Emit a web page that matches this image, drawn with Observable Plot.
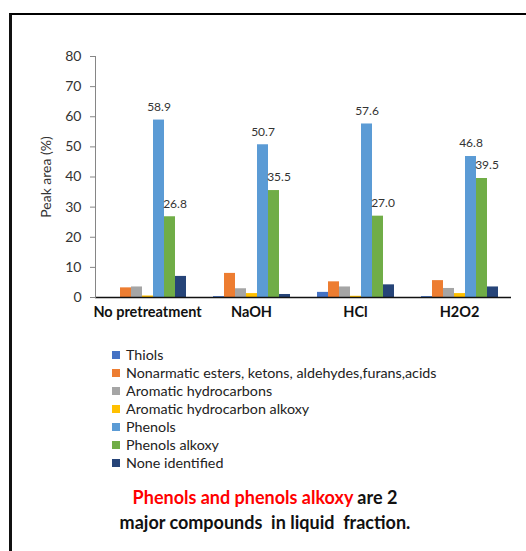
<!DOCTYPE html>
<html>
<head>
<meta charset="utf-8">
<script src="https://cdn.jsdelivr.net/npm/d3@7"></script>
<script src="https://cdn.jsdelivr.net/npm/@observablehq/plot@0.6"></script>
<style>
  html, body { margin: 0; padding: 0; background: #fff; }
  #wrap { position: relative; width: 526px; height: 551px; overflow: hidden; font-family: Lato, "Open Sans", sans-serif; }
  #border { position: absolute; left: 9px; top: 13px; right: -10px; bottom: -10px; border-top: 2px solid #000; border-left: 3px solid #111; }
  #chart { position: absolute; left: 0; top: 0; }
  #legend { position: absolute; left: 112px; top: 346px; font-size: 14.3px; color: #222; }
  .row { height: 18px; line-height: 18px; display: flex; align-items: center; white-space: nowrap; }
  .sw { width: 8px; height: 8px; margin-right: 6px; flex: none; }
  #caption { position: absolute; left: 0; width: 530px; top: 485px; text-align: center; font-size: 18px; font-weight: bold; line-height: 25px; color: #111; }
  #caption .red { color: #ff0000; }
</style>
</head>
<body>
<div id="wrap">
  <div id="border"></div>
  <div id="chart"></div>
  <div id="legend"></div>
  <div id="caption"><span class="red">Phenols and phenols alkoxy</span> are 2<br>major compounds&nbsp; in liquid&nbsp; fraction.</div>
</div>
<script>
const categories = ["No pretreatment", "NaOH", "HCl", "H2O2"];
const series = [
  "Thiols",
  "Nonarmatic esters, ketons, aldehydes,furans,acids",
  "Aromatic hydrocarbons",
  "Aromatic hydrocarbon alkoxy",
  "Phenols",
  "Phenols alkoxy",
  "None identified"
];
const colors = ["#4472C4", "#ED7D31", "#A5A5A5", "#FFC000", "#5B9BD5", "#70AD47", "#264478"];

// values per series, in order of categories
const thiols         = [0.0, 0.3, 1.7, 0.3];
const nonaromatic    = [3.2, 8.0, 5.2, 5.6];
const aromaticHC     = [3.5, 2.9, 3.5, 3.0];
const aromaticAlkoxy = [0.5, 1.3, 0.4, 1.3];
const phenols        = [58.9, 50.7, 57.6, 46.8];
const phenolsAlkoxy  = [26.8, 35.5, 27.0, 39.5];
const noneIdentified = [7.0, 1.0, 4.2, 3.5];
const yTicks = [0, 10, 20, 30, 40, 50, 60, 70, 80];

const seriesValues = [thiols, nonaromatic, aromaticHC, aromaticAlkoxy, phenols, phenolsAlkoxy, noneIdentified];
const data = [];
categories.forEach((c, i) => {
  series.forEach((s, j) => data.push({cat: c, series: s, value: seriesValues[j][i]}));
});
const phenolLabels = data.filter(d => d.series === "Phenols");
const alkoxyLabels = data.filter(d => d.series === "Phenols alkoxy");

const chart = Plot.plot({
  width: 526,
  height: 335,
  marginTop: 56,
  marginBottom: 38,
  marginLeft: 93,
  marginRight: 14,
  style: {fontFamily: "Lato, 'Open Sans', sans-serif", fontSize: "13px", color: "#333", background: "transparent"},
  fx: {domain: categories, padding: 0, label: null},
  x: {domain: series, paddingInner: 0, paddingOuter: 1.08, axis: null},
  y: {domain: [0, 80]},
  color: {domain: series, range: colors},
  marks: [
    Plot.barY(data, {fx: "cat", x: "series", y: "value", fill: "series"}),
    Plot.ruleY([0], {stroke: "#111", strokeWidth: 1.5}),
    Plot.frame({anchor: "left", facetAnchor: "left", stroke: "#868686"}),
    Plot.axisY({ticks: yTicks, tickSize: 5, tickPadding: 9, stroke: "#868686", fill: "#333", fontSize: 14,
      label: "Peak area (%)", labelAnchor: "center", labelOffset: 54, labelArrow: false}),
    Plot.axisFx({anchor: "bottom", tickSize: 0, tickPadding: 9, fontWeight: "bold", fontSize: 14.5, fill: "#111", label: null}),
    Plot.text(phenolLabels, {fx: "cat", x: "series", y: "value", text: d => d.value.toFixed(1), dy: -13, fontSize: 12, fill: "#333"}),
    Plot.text(alkoxyLabels, {fx: "cat", x: "series", y: "value", text: d => d.value.toFixed(1), dy: -13, dx: 5, fontSize: 12, fill: "#333"})
  ]
});
document.getElementById("chart").appendChild(chart);

const legend = document.getElementById("legend");
series.forEach((s, i) => {
  const row = document.createElement("div");
  row.className = "row";
  const sw = document.createElement("span");
  sw.className = "sw";
  sw.style.background = colors[i];
  const t = document.createElement("span");
  t.textContent = s;
  row.appendChild(sw);
  row.appendChild(t);
  legend.appendChild(row);
});
</script>
</body>
</html>
